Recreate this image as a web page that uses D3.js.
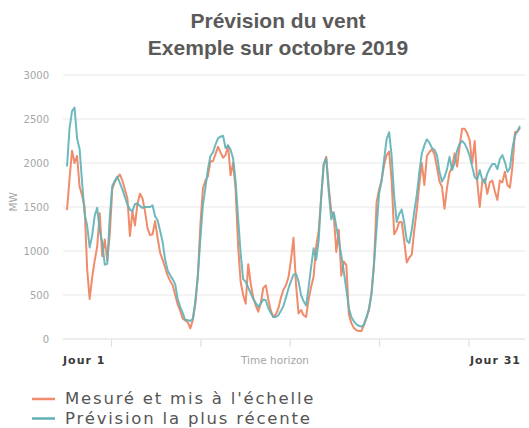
<!DOCTYPE html>
<html>
<head>
  <meta charset="utf-8">
  <title>Prévision du vent</title>
  <script src="https://d3js.org/d3.v7.min.js"></script>
  <style>
    body { margin: 0; background: #fff; }
    svg { display: block; }
  </style>
</head>
<body>
  <svg width="529" height="428"></svg>
  <script>
    // Pas de temps : une valeur toutes les 4 heures, du jour 1 au jour 31
    var stepHours = 4;

    // Mesuré et mis à l'échelle (MW)
    var mesure = [
      1465, 1820, 2140, 2000, 2080, 1730, 1630, 1500, 800, 455,
      700, 890, 1050, 1430, 940, 1130, 890, 1190, 1710, 1785,
      1830, 1870, 1800, 1700, 1600, 1170, 1450, 1290, 1540, 1650,
      1600, 1450, 1260, 1180, 1190, 1340, 1150, 980, 900, 810,
      720, 660, 610, 500, 390, 320, 230, 210, 190, 120,
      215, 400, 720, 1300, 1710, 1800, 1850, 2020, 2020, 2100,
      2185, 2120, 2060, 2090, 2200, 1860, 2000, 1700, 1050, 650,
      500, 400, 850, 630, 470, 380, 310, 410, 580, 610,
      450, 320, 250, 280, 350, 470, 560, 610, 700, 900,
      1150, 620, 290, 330, 270, 250, 450, 590, 710, 1050,
      1230, 1600, 1980, 2070, 1730, 1450, 1410, 990, 1240, 720,
      880, 840, 280, 180, 125, 100, 90, 90, 160, 245,
      330, 530, 850, 1550, 1700, 1800, 1980, 2090, 2130, 1800,
      1190, 1240, 1330, 1330, 1110, 870, 925, 960, 1240, 1470,
      1760, 2000, 1750, 2080, 2125, 2155, 2100, 1950, 1790, 1730,
      1480, 1720, 1890, 1950, 2110, 1960, 2190, 2390, 2390, 2340,
      2260, 2000, 2250, 1790, 1500, 1790, 1820, 1650, 1780, 1800,
      1680, 1580, 1800, 1780, 1900, 1750, 1720, 1960, 2350, 2360,
      2400
    ];

    // Prévision la plus récente (MW)
    var prevision = [
      1960, 2390, 2590, 2630, 2280, 2160, 1780, 1420, 1290, 1040,
      1175, 1400, 1490, 1230, 1100, 845, 855, 1390, 1740, 1800,
      1845, 1775, 1700, 1615, 1530, 1470, 1450, 1535, 1540, 1510,
      1490, 1500, 1500, 1500, 1520, 1395, 1350, 1230, 1100, 900,
      780, 725, 680, 620, 450, 365, 295, 215, 215, 205,
      230, 430, 720, 1140, 1520, 1720, 1930, 2080, 2120, 2210,
      2280, 2300, 2310, 2170, 2200, 2150, 2050, 1790, 1370, 970,
      680, 650, 585, 520, 455, 410, 365, 405, 450, 440,
      350, 295, 250, 250, 270, 320, 375, 470, 575, 655,
      730, 740, 655, 500, 430, 380, 590, 820, 1030, 900,
      1120, 1620, 1985, 2050, 1670, 1360, 1440, 1280, 1115, 950,
      765, 560, 350, 250, 200, 165, 150, 140, 165, 240,
      350, 510, 860, 1250, 1650, 1800, 2040, 2270, 2350, 2080,
      1620, 1330, 1420, 1470, 1320, 1120, 1090, 1240, 1450, 1640,
      1900, 2110, 2200, 2270, 2230, 2170, 2150, 2090, 1900, 1790,
      1840, 1930, 2070, 1920, 2000, 2140, 2220, 2250, 2220, 2160,
      2080, 1960, 1840, 1810, 1920, 1810, 1770, 1880, 1940, 1990,
      1990, 1930, 2045, 2090, 2010, 1900, 1940, 2170, 2310, 2360,
      2420
    ];

    var yTicks = [0, 500, 1000, 1500, 2000, 2500, 3000];
    var xTickHours = [70, 212, 354, 496, 638];
    var xLabels = ["Jour 1", "Jour 31"];
    var series = [
      { name: "Mesuré et mis à l'échelle", values: mesure, color: "#f08b6b" },
      { name: "Prévision la plus récente", values: prevision, color: "#5eb1b7" }
    ];

    var svg = d3.select("svg");
    var plotLeft = 63, plotRight = 525;
    var totalHours = (mesure.length - 1) * stepHours;

    var x = d3.scaleLinear().domain([0, totalHours]).range([67, 520]);
    var y = d3.scaleLinear().domain([0, 3000]).range([339, 75]);

    // Titre
    var title = svg.append("g")
      .attr("font-family", "Liberation Sans, Arial, sans-serif")
      .attr("font-weight", "bold")
      .attr("font-size", 21)
      .attr("fill", "#5a5a5a")
      .attr("text-anchor", "middle");
    title.append("text").attr("x", 278).attr("y", 28).text("Prévision du vent");
    title.append("text").attr("x", 278).attr("y", 54.5).text("Exemple sur octobre 2019");

    // Grille horizontale
    svg.append("g")
      .selectAll("line")
      .data(yTicks)
      .enter()
      .append("line")
      .attr("x1", plotLeft)
      .attr("x2", plotRight)
      .attr("y1", function (d) { return y(d); })
      .attr("y2", function (d) { return y(d); })
      .attr("stroke", function (d) { return d === 0 ? "#dcdcdc" : "#e8e8e8"; })
      .attr("stroke-width", 1.2);

    // Axe Y
    var yAxis = svg.append("g")
      .attr("transform", "translate(" + plotLeft + ",0)")
      .call(d3.axisLeft(y).tickValues(yTicks).tickSize(0).tickPadding(14).tickFormat(d3.format("d")));
    yAxis.select(".domain").remove();
    yAxis.selectAll("text")
      .attr("font-family", "DejaVu Sans, sans-serif")
      .attr("font-size", 10)
      .attr("fill", "#a6a6a6");

    svg.append("text")
      .attr("transform", "translate(17," + y(1560) + ") rotate(-90)")
      .attr("text-anchor", "middle")
      .attr("font-family", "DejaVu Sans, sans-serif")
      .attr("font-size", 10.5)
      .attr("fill", "#a6a6a6")
      .text("MW");

    // Axe X
    var xAxis = svg.append("g")
      .attr("transform", "translate(0," + y(0) + ")")
      .call(d3.axisBottom(x).tickValues(xTickHours).tickSize(8).tickFormat(""));
    xAxis.select(".domain").remove();
    xAxis.selectAll("line").attr("stroke", "#e0e0e0").attr("stroke-width", 1.2);

    svg.append("text")
      .attr("x", 275)
      .attr("y", 364)
      .attr("text-anchor", "middle")
      .attr("font-family", "DejaVu Sans, sans-serif")
      .attr("font-size", 10.5)
      .attr("fill", "#a6a6a6")
      .text("Time horizon");

    svg.selectAll(".jour")
      .data(xLabels)
      .enter()
      .append("text")
      .attr("class", "jour")
      .attr("x", function (d, i) { return i === 0 ? plotLeft : x(totalHours) + 1; })
      .attr("y", 364)
      .attr("text-anchor", function (d, i) { return i === 0 ? "start" : "end"; })
      .attr("font-family", "DejaVu Sans, sans-serif")
      .attr("font-weight", "bold")
      .attr("font-size", 11)
      .attr("letter-spacing", 1)
      .attr("fill", "#3a3a3a")
      .text(function (d) { return d; });

    // Courbes
    var line = d3.line()
      .x(function (d, i) { return x(i * stepHours); })
      .y(function (d) { return y(d); });

    svg.append("g")
      .selectAll("path")
      .data(series)
      .enter()
      .append("path")
      .attr("fill", "none")
      .attr("stroke", function (d) { return d.color; })
      .attr("stroke-width", 2)
      .attr("stroke-linejoin", "round")
      .attr("stroke-opacity", function (d, i) { return i === 0 ? 1 : 0.9; })
      .attr("d", function (d) { return line(d.values); });

    // Légende
    var legend = svg.append("g")
      .selectAll("g")
      .data(series)
      .enter()
      .append("g")
      .attr("transform", function (d, i) { return "translate(0," + (399 + i * 19.5) + ")"; });
    legend.append("line")
      .attr("x1", 32)
      .attr("x2", 55)
      .attr("stroke", function (d) { return d.color; })
      .attr("stroke-width", 2.5);
    legend.append("text")
      .attr("x", 65)
      .attr("y", 5)
      .attr("font-family", "DejaVu Sans, sans-serif")
      .attr("font-size", 16.5)
      .attr("letter-spacing", 1.8)
      .attr("fill", "#555")
      .text(function (d) { return d.name; });
  </script>
</body>
</html>
